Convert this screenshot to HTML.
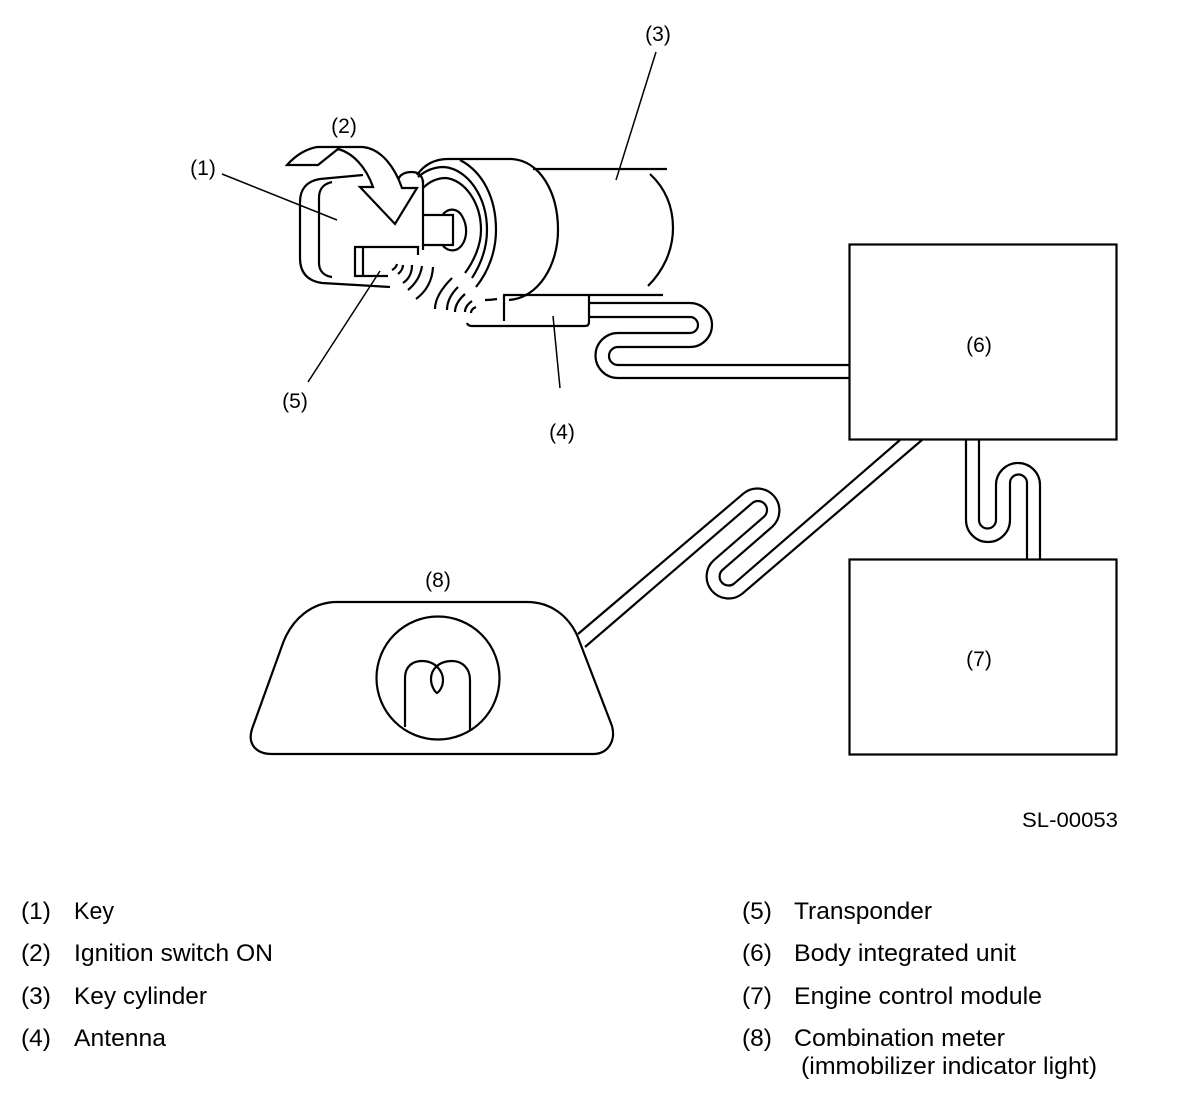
<!DOCTYPE html>
<html><head><meta charset="utf-8"><style>
html,body{margin:0;padding:0;background:#fff}
svg{display:block}
text{font-family:"Liberation Sans",sans-serif;fill:#000}
.l{font-size:24.5px}
.d{font-size:21px;text-anchor:middle}
path,line,rect,circle{fill:none;stroke:#000;stroke-width:2.2}
.t{stroke-width:1.5}
</style></head><body>
<svg width="1200" height="1096" viewBox="0 0 1200 1096" xmlns="http://www.w3.org/2000/svg">
<!-- boxes -->
<rect x="849.5" y="244.5" width="267" height="195" stroke-width="2.5"/>
<rect x="849.5" y="559.5" width="267" height="195" stroke-width="2.5"/>
<!-- key -->
<path d="M363,175 L320,179 C307,181 300,189 300,202 V258 C300,273 308,281 322,283 L390,287" stroke-width="2.5"/>
<path d="M332,182 C323,184 319,189 319,198 V263 C319,271 324,276 332,277"/>
<path d="M398,180 C400,174 406,172 412,172 C420,172 423,178 423,183"/>
<path d="M423,180 V250" stroke-width="2.5"/>
<path d="M423,215 H453 V245 H423"/>
<path d="M443,214 C450,207 458,209 462,216 C468,226 467,238 462,245 C457,252 449,252 443,246"/>
<!-- transponder -->
<path d="M418,255 V247 H355 V276 H388"/>
<path d="M363,247 V276"/>
<!-- waves -->
<path d="M392,270 Q396,268 397,264"/>
<path d="M398,274 Q403,270 403,265"/>
<path d="M403,283 Q412,277 412,265"/>
<path d="M408,290 Q420,280 422,266"/>
<path d="M416,299 Q432,287 433,267"/>
<path d="M452,278 Q435,295 435,309"/>
<path d="M458,287 Q447,298 447,310"/>
<path d="M465,294 Q455,303 455,312"/>
<path d="M472,301 Q465,306 465,312"/>
<path d="M476,307 Q471,309 471,313"/>
<!-- cylinder -->
<path d="M417,175 C424,165 434,159 448,159 H512 C540,161 558,192 558,230 C558,266 538,298 509,300"/>
<path d="M460,160 C483,172 496,198 496,230 C496,252 488,272 476,287"/>
<path d="M418,177 C426,170 434,167 444,167 C468,169 487,197 487,230 C487,248 481,264 472,278"/>
<path d="M423,188 C430,181 438,178 446,178 C465,180 481,203 481,230 C481,245 474,261 465,273"/>
<path d="M533,169 H667"/>
<path d="M650,174 C665,188 673,206 673,228 C673,252 662,272 648,286"/>
<path d="M503,295 H663"/>
<path d="M504,295 V321"/>
<path d="M485,300 Q491,300 497,299"/>
<path d="M467,323 Q468,326 472,326 H585 Q589,326 589,322 V295"/>
<!-- wiring antenna to unit -->
<path d="M590,303 H690 A22,22 0 0 1 690,347 H618 A9,9 0 0 0 618,365 H850"/>
<path d="M590,317 H690 A8,8 0 0 1 690,333 H618 A22.5,22.5 0 0 0 618,378 H850"/>
<!-- wiring unit to ECM -->
<path d="M966,440 V520 A22,22 0 0 0 1010,520 V483 A8.5,8.5 0 0 1 1027,483 V559"/>
<path d="M979,440 V520 A8.5,8.5 0 0 0 996,520 V485 A22,22 0 0 1 1040,485 V559"/>
<!-- wiring unit to meter -->
<path d="M922,440 L742.3,593.7 A22,22 0 0 1 713.7,560.3 L763.9,516.8 A9,9 0 0 0 752.1,503.2 L585,647"/>
<path d="M900,440 L733.9,583.8 A9,9 0 0 1 722.2,570.2 L772.3,526.7 A22,22 0 0 0 743.7,493.3 L578,634"/>
<!-- meter -->
<path d="M337,602 H527 C551,602 568,616 577,635 L612,726 C616,741 608,754 593,754 H272 C257,754 247,745 252,729 L283,643 C292,619 312,602 337,602 Z"/>
<circle cx="438" cy="678" r="61.5"/>
<path d="M405,727 V678 C405,666 413,661 422,661 C436,661 443,672 443,680 C443,687 439,692 437,693 C435,692 431,686 431,679 C431,670 438,661 452,661 C462,661 470,668 470,680 V731"/>
<!-- arrow -->
<path d="M287,165 C296,155 306,149 317,147 H363 C382,149 395,168 402,188 H417 L395,224 L360,187 H373 C366,167 353,153 338,149 L318,165 Z" style="fill:#fff" stroke-width="2.5"/>
<!-- leaders -->
<line class="t" x1="222" y1="174" x2="337" y2="220"/>
<line class="t" x1="656" y1="52" x2="616" y2="180"/>
<line class="t" x1="308" y1="382" x2="380" y2="271"/>
<line class="t" x1="553" y1="316" x2="560" y2="388"/>
<!-- diagram labels -->
<text class="d" x="203" y="175">(1)</text>
<text class="d" x="344" y="133">(2)</text>
<text class="d" x="658" y="41">(3)</text>
<text class="d" x="562" y="439">(4)</text>
<text class="d" x="295" y="408">(5)</text>
<text class="d" x="979" y="352">(6)</text>
<text class="d" x="979" y="666">(7)</text>
<text class="d" x="438" y="587">(8)</text>
<text x="1022" y="827" font-size="21" textLength="96" lengthAdjust="spacingAndGlyphs">SL-00053</text>
<!-- legend -->
<text class="l" x="21" y="919">(1)</text><text class="l" x="74" y="919" textLength="40" lengthAdjust="spacingAndGlyphs">Key</text>
<text class="l" x="21" y="961">(2)</text><text class="l" x="74" y="961" textLength="199" lengthAdjust="spacingAndGlyphs">Ignition switch ON</text>
<text class="l" x="21" y="1004">(3)</text><text class="l" x="74" y="1004" textLength="133" lengthAdjust="spacingAndGlyphs">Key cylinder</text>
<text class="l" x="21" y="1046">(4)</text><text class="l" x="74" y="1046" textLength="92" lengthAdjust="spacingAndGlyphs">Antenna</text>
<text class="l" x="742" y="919">(5)</text><text class="l" x="794" y="919" textLength="138" lengthAdjust="spacingAndGlyphs">Transponder</text>
<text class="l" x="742" y="961">(6)</text><text class="l" x="794" y="961" textLength="222" lengthAdjust="spacingAndGlyphs">Body integrated unit</text>
<text class="l" x="742" y="1004">(7)</text><text class="l" x="794" y="1004" textLength="248" lengthAdjust="spacingAndGlyphs">Engine control module</text>
<text class="l" x="742" y="1046">(8)</text><text class="l" x="794" y="1046" textLength="211" lengthAdjust="spacingAndGlyphs">Combination meter</text>
<text class="l" x="801" y="1074" textLength="296" lengthAdjust="spacingAndGlyphs">(immobilizer indicator light)</text>
</svg>
</body></html>
